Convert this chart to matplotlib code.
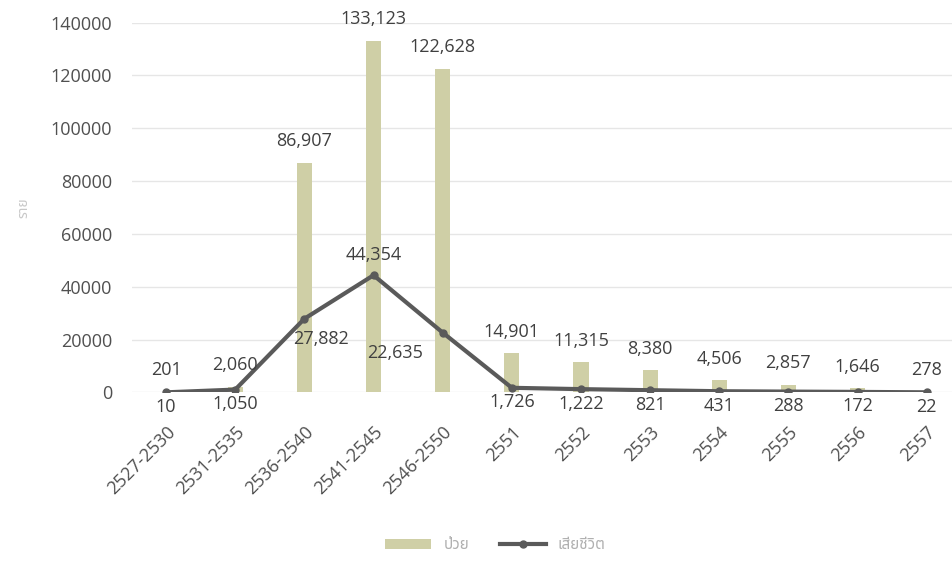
import matplotlib
matplotlib.use("Agg")
import matplotlib.pyplot as plt
import numpy as np

cats = ["2527-2530", "2531-2535", "2536-2540", "2541-2545", "2546-2550",
        "2551", "2552", "2553", "2554", "2555", "2556", "2557"]
sick = [201, 2060, 86907, 133123, 122628, 14901, 11315, 8380, 4506, 2857, 1646, 278]
dead = [10, 1050, 27882, 44354, 22635, 1726, 1222, 821, 431, 288, 172, 22]

plt.rcParams['font.family'] = ['Open Sans', 'Noto Sans Thai', 'Noto Sans', 'DejaVu Sans']

fig = plt.figure(figsize=(9.53, 5.67), dpi=100)
ax = fig.add_axes([0.138, 0.308, 0.862, 0.652])
x = np.arange(len(cats))

b = ax.bar(x, sick, width=0.22, color="#cfcfa6", label="ป่วย", zorder=2)
l, = ax.plot(x, dead, color="#5a5a5a", lw=3, marker="o", ms=5, label="เสียชีวิต", zorder=3)

for i, v in enumerate(sick):
    ax.annotate(f"{v:,}", (i, v), xytext=(0, 9), textcoords="offset points",
                ha="center", va="bottom", fontsize=13, color="#404040")

off = {2: (12, -8), 3: (0, 8), 4: (-34, -8)}
for i, v in enumerate(dead):
    dx, dy = off.get(i, (0, -4))
    va = "bottom" if dy > 0 else "top"
    ax.annotate(f"{v:,}", (i, v), xytext=(dx, dy), textcoords="offset points",
                ha="center", va=va, fontsize=13, color="#404040")

ax.set_xlim(-0.5, len(cats) - 0.62)
ax.set_ylim(0, 140000)
ax.set_yticks(np.arange(0, 140001, 20000))
ax.set_xticks(x)
ax.set_xticklabels(cats, rotation=45, ha="right", rotation_mode="anchor", fontsize=13, color="#505050")
ax.tick_params(axis="y", labelsize=13, labelcolor="#505050", length=0, pad=14)
ax.tick_params(axis="x", length=0, pad=22)
ax.grid(axis="y", color="#e6e6e6", lw=1, zorder=0)
for s in ax.spines.values():
    s.set_visible(False)
ax.set_ylabel("ราย", color="#c8c8c8", fontsize=10, labelpad=14)

fig.legend([b, l], ["ป่วย", "เสียชีวิต"], loc="lower center", bbox_to_anchor=(0.52, 0.0),
           ncol=2, frameon=False, fontsize=11, labelcolor="#b0b0b0", handlelength=3)

fig.savefig("out.png", dpi=100, facecolor="white")
